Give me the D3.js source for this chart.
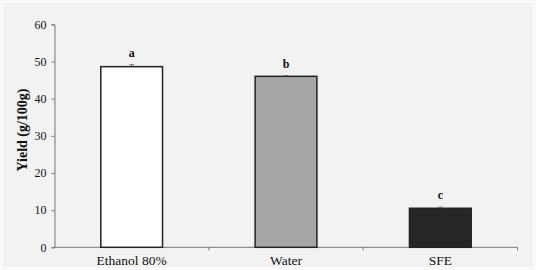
<!DOCTYPE html>
<html>
<head>
<meta charset="utf-8">
<script src="https://cdn.jsdelivr.net/npm/d3@7"></script>
<style>
    body { margin: 0; background: #fafafa; }
    svg { display: block; }
</style>
</head>
<body>
<svg id="chart" width="536" height="270"></svg>
<script>
    // Data
    const categories = ['Ethanol 80%', 'Water', 'SFE'];
    const yields = [48.6, 46.0, 10.5];
    const errors = [0.5, 0.2, 0.3];
    const letters = ['a', 'b', 'c'];
    const fills = ['#ffffff', '#a6a6a6', '#262626'];
    const yTicks = [0, 10, 20, 30, 40, 50, 60];

    const FONT = "'Liberation Serif', 'DejaVu Serif', serif";

    const svg = d3.select('#chart')
        .attr('font-family', FONT);

    // Background panel
    svg.append('rect')
        .attr('x', 3).attr('y', 3)
        .attr('width', 530).attr('height', 264)
        .attr('fill', '#f2f2f2');

    const margin = {left: 54.5, right: 18.5, top: 24.3, bottom: 22.7};
    const width = 536 - margin.left - margin.right;
    const height = 270 - margin.top - margin.bottom;

    const g = svg.append('g')
        .attr('transform', 'translate(' + margin.left + ',' + margin.top + ')');

    const x = d3.scaleBand()
        .domain(categories)
        .range([0, width])
        .paddingInner(0.6)
        .paddingOuter(0.3);

    const y = d3.scaleLinear()
        .domain([0, 60])
        .range([height, 0]);

    // Y axis
    const yAxis = g.append('g')
        .call(d3.axisLeft(y).tickValues(yTicks).tickSize(3).tickPadding(5))
        .attr('font-family', FONT)
        .attr('font-size', 12);
    yAxis.select('.domain').attr('stroke', '#777');
    yAxis.selectAll('.tick line').attr('stroke', '#777');
    yAxis.selectAll('.tick text').attr('fill', '#111');

    // X axis: ticks at band boundaries
    const xAxis = g.append('g')
        .attr('transform', 'translate(0,' + height + ')');
    xAxis.append('line')
        .attr('x1', 0).attr('x2', width)
        .attr('stroke', '#777');
    const step = width / categories.length;
    xAxis.selectAll('line.tick')
        .data(d3.range(1, categories.length + 1))
        .enter().append('line')
            .attr('class', 'tick')
            .attr('x1', (i) => i * step).attr('x2', (i) => i * step)
            .attr('y1', 0).attr('y2', 3)
            .attr('stroke', '#777');
    xAxis.selectAll('text')
        .data(categories)
        .enter().append('text')
            .attr('x', (c) => x(c) + x.bandwidth() / 2)
            .attr('y', 18)
            .attr('text-anchor', 'middle')
            .attr('font-size', 13.5)
            .attr('fill', '#111')
            .text((c) => c);

    // Bars
    g.selectAll('rect.bar')
        .data(categories)
        .enter().append('rect')
            .attr('class', 'bar')
            .attr('x', (c) => x(c))
            .attr('y', (c, i) => y(yields[i]))
            .attr('width', x.bandwidth())
            .attr('height', (c, i) => height - y(yields[i]))
            .attr('fill', (c, i) => fills[i])
            .attr('stroke', '#222')
            .attr('stroke-width', 1.5);

    // Error bars
    const eb = g.selectAll('g.err')
        .data(categories)
        .enter().append('g')
            .attr('class', 'err')
            .attr('transform', (c) => 'translate(' + (x(c) + x.bandwidth() / 2) + ',0)');
    eb.append('line')
        .attr('y1', (c, i) => y(yields[i] + errors[i]))
        .attr('y2', (c, i) => y(yields[i]))
        .attr('stroke', '#666');
    eb.append('line')
        .attr('x1', -2.5).attr('x2', 2.5)
        .attr('y1', (c, i) => y(yields[i] + errors[i]))
        .attr('y2', (c, i) => y(yields[i] + errors[i]))
        .attr('stroke', '#666');

    // Significance letters
    g.selectAll('text.letter')
        .data(categories)
        .enter().append('text')
            .attr('class', 'letter')
            .attr('x', (c) => x(c) + x.bandwidth() / 2)
            .attr('y', (c, i) => y(yields[i] + errors[i]) - 8)
            .attr('text-anchor', 'middle')
            .attr('font-size', 12)
            .attr('font-weight', 'bold')
            .attr('fill', '#111')
            .text((c, i) => letters[i]);

    // Y title
    svg.append('text')
        .attr('transform', 'translate(27,130) rotate(-90)')
        .attr('text-anchor', 'middle')
        .attr('font-size', 14)
        .attr('font-weight', 'bold')
        .attr('fill', '#111')
        .text('Yield (g/100g)');
</script>
</body>
</html>
